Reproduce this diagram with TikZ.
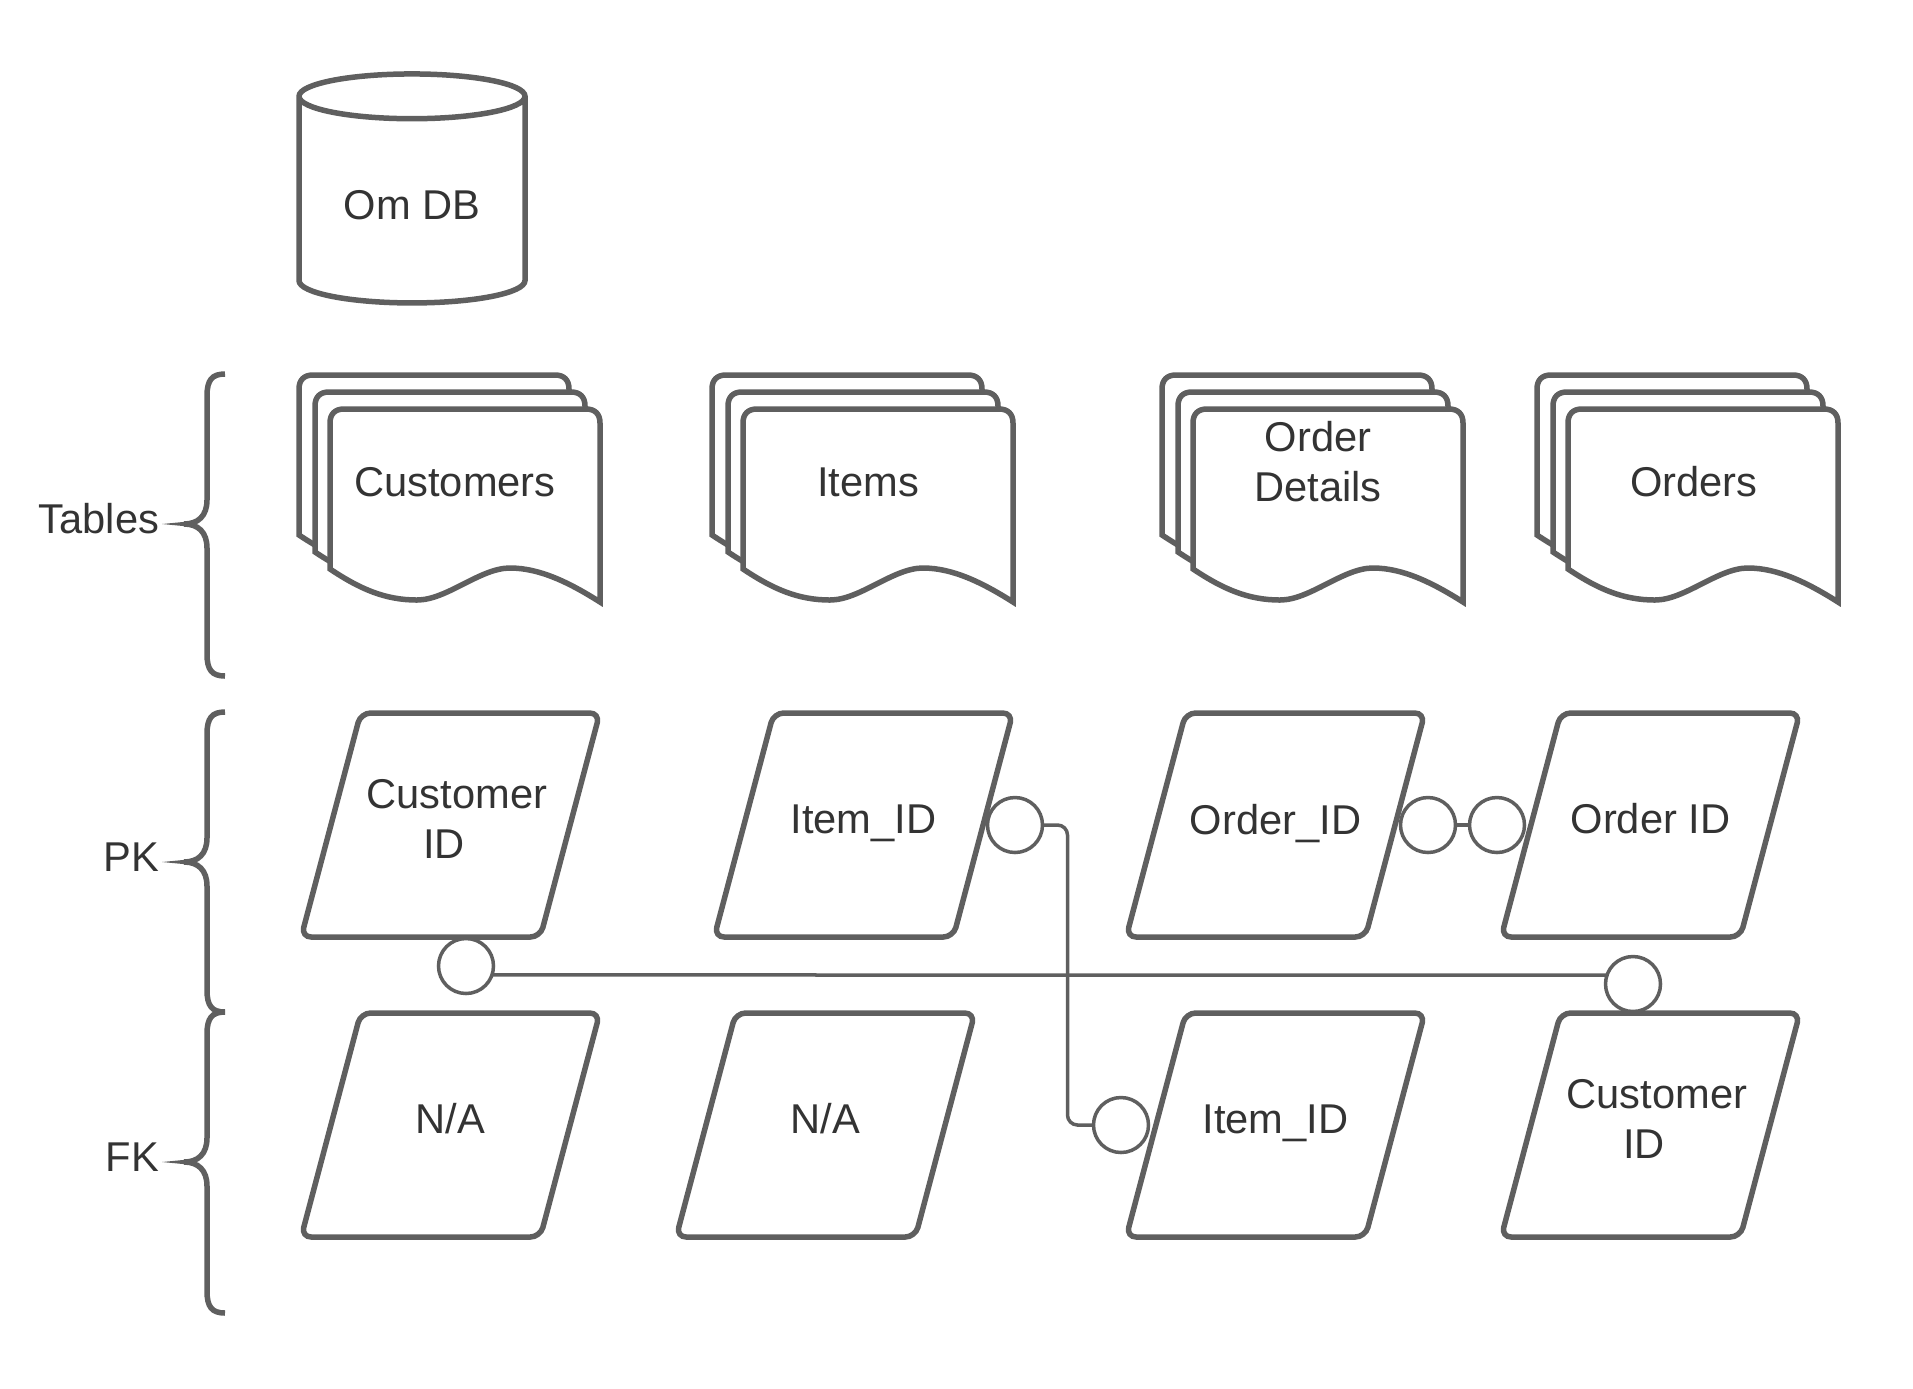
\documentclass[tikz,border=0pt]{standalone}
\usepackage{fontspec}
\setmainfont{Liberation Sans}
\usetikzlibrary{shapes.geometric}
\definecolor{linegray}{HTML}{5F5F5F}
\definecolor{textgray}{HTML}{333333}
\tikzset{
    every node/.style={text=textgray, font=\fontsize{23.7}{28.5}\selectfont, inner sep=0pt, outer sep=0pt, align=center},
    dbcyl/.style={shape=cylinder, shape border rotate=90, aspect=2.15, draw=linegray, line width=1.1mm, minimum width=45.2mm, minimum height=45.8mm},
    keybox/.style={shape=trapezium, trapezium left angle=72.6, trapezium right angle=107.4, trapezium stretches=true,
        rounded corners=2mm, draw=linegray, line width=1.1mm, minimum width=59.8mm, minimum height=44.8mm},
    boxtext/.style={yshift=1.2mm},
    keydot/.style={circle, draw=linegray, line width=0.7mm, minimum size=11mm},
    keyline/.style={draw=linegray, line width=0.7mm},
    bracket/.style={draw=linegray, line width=1.1mm},
    pagebox/.style={draw=linegray, fill=white, line width=1.1mm},
    tablepage/.pic={
        \draw[pagebox] (0,160) -- (0,14) .. controls (0,5) and (5,0) .. (14,0) -- (256,0)
            .. controls (265,0) and (270,5) .. (270,14) -- (270,193)
            .. controls (240,174) and (210,159) .. (180,159)
            .. controls (150,159) and (117,191) .. (87,191)
            .. controls (55,191) and (30,180) .. (0,160) -- cycle;
    }
}
\begin{document}
\begin{tikzpicture}[x=0.2mm, y=-0.2mm]
    \useasboundingbox (0,0) rectangle (1913,1388);

    \node[dbcyl, label={[yshift=-0.8mm]center:Om DB}] (omdb) at (412,201) {\phantom{x}};

    % table stacks
    \foreach \px in {330, 743, 1193, 1568} {
        \pic at (\px-31,375) {tablepage};
        \pic at (\px-15,392) {tablepage};
        \pic at (\px,409) {tablepage};
    }
    \node (customers) at (455,482) {Customers};
    \node (items) at (868,482) {Items};
    \node (orderdetails) at (1318,462) {Order\\Details};
    \node (orders) at (1694,482) {Orders};

    % circles go under the boxes
    \node[keydot] (custdot) at (466,966) {};
    \node[keydot] (itemdot) at (1015,825) {};
    \node[keydot] (orderdot) at (1428,825) {};
    \node[keydot] (orderiddot) at (1497,825) {};
    \node[keydot] (itemfkdot) at (1121,1125) {};
    \node[keydot] (custfkdot) at (1633,984) {};

    % keys
    \foreach \name/\px/\py/\lab in {custpk/450.5/825/{\hspace*{2.6mm}Customer\\ID\hspace*{2.6mm}},
        itempk/863.5/825/\raisebox{0pt}[\height][0pt]{Item\_ID}, orderpk/1275.5/825/\raisebox{0pt}[\height][0pt]{Order\_ID}, orderidpk/1650.5/825/Order ID,
        nafirst/450.5/1125/N\slash A, nasecond/825.5/1125/N\slash A, itemfk/1275.5/1125/\raisebox{0pt}[\height][0pt]{Item\_ID},
        custfk/1650.5/1125/{\hspace*{2.6mm}Customer\\ID\hspace*{2.6mm}}} {
        \node[keybox, label={[boxtext]center:{\lab}}] (\name) at (\px,\py) {\phantom{x}};
    }

    \draw[keyline] (custdot.-19) -- (custfkdot.161);
    \draw[keyline, rounded corners=2mm] (itemdot.east) -- ++(25,0) |- (itemfkdot.west);
    \draw[keyline] (orderdot.east) -- (orderiddot.west);

    % braces and their labels
    \foreach \name/\lab/\ytop/\ymid/\ybot in {tables/Tables/374/524/676, pk/PK/712/862/1012, fk/FK/1012/1162/1313} {
        \node[anchor=east] (\name) at (159,\ymid-5) {\lab};
        \draw[bracket] (225,\ytop) .. controls (212,\ytop) and (207,\ytop+6) .. (207,\ytop+22)
            -- (207,\ymid-24) .. controls (207,\ymid-8) and (198,\ymid) .. (184,\ymid)
            .. controls (198,\ymid) and (207,\ymid+8) .. (207,\ymid+24)
            -- (207,\ybot-22) .. controls (207,\ybot-6) and (212,\ybot) .. (225,\ybot);
        \fill[linegray] (162,\ymid) -- (188,\ymid-2.5) -- (188,\ymid+2.5) -- cycle;
    }
\end{tikzpicture}
\end{document}
